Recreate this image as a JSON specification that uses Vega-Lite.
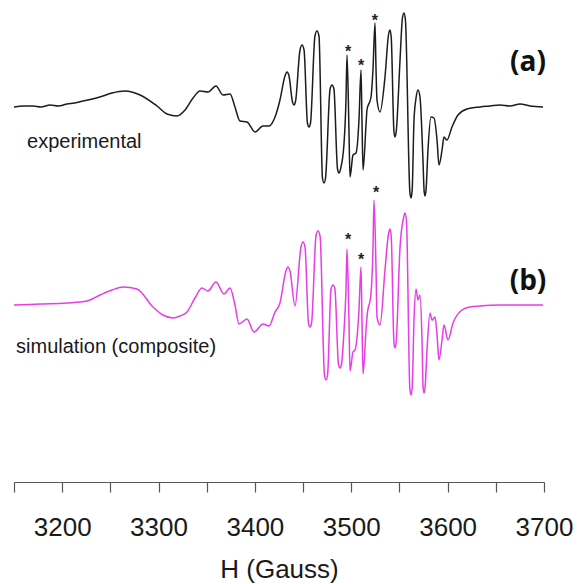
{
  "$schema": "https://vega.github.io/schema/vega-lite/v6.json",
  "autosize": {"type": "none"},
  "width": 530,
  "height": 482,
  "padding": {"left": 14, "right": 35, "top": 0, "bottom": 102},
  "background": "white",
  "config": {"view": {"stroke": null}},
  "datasets": {
    "spectra": [
      {"trace": "experimental", "H": 3150, "I": 375},
      {"trace": "experimental", "H": 3160, "I": 376},
      {"trace": "experimental", "H": 3169.7, "I": 376},
      {"trace": "experimental", "H": 3178, "I": 375},
      {"trace": "experimental", "H": 3187.4, "I": 377},
      {"trace": "experimental", "H": 3196, "I": 376},
      {"trace": "experimental", "H": 3205.0, "I": 378},
      {"trace": "experimental", "H": 3213, "I": 379},
      {"trace": "experimental", "H": 3221.6, "I": 381},
      {"trace": "experimental", "H": 3239.2, "I": 385},
      {"trace": "experimental", "H": 3251.7, "I": 389},
      {"trace": "experimental", "H": 3265.2, "I": 391},
      {"trace": "experimental", "H": 3280.8, "I": 387},
      {"trace": "experimental", "H": 3298.4, "I": 376},
      {"trace": "experimental", "H": 3308.8, "I": 368},
      {"trace": "experimental", "H": 3319.2, "I": 366},
      {"trace": "experimental", "H": 3327.5, "I": 372},
      {"trace": "experimental", "H": 3335.8, "I": 384},
      {"trace": "experimental", "H": 3343.0, "I": 391},
      {"trace": "experimental", "H": 3351.3, "I": 390},
      {"trace": "experimental", "H": 3359.6, "I": 396},
      {"trace": "experimental", "H": 3366.9, "I": 387},
      {"trace": "experimental", "H": 3374.2, "I": 388},
      {"trace": "experimental", "H": 3379.3, "I": 375},
      {"trace": "experimental", "H": 3384.5, "I": 361},
      {"trace": "experimental", "H": 3391.8, "I": 360},
      {"trace": "experimental", "H": 3400.1, "I": 350},
      {"trace": "experimental", "H": 3408.4, "I": 356},
      {"trace": "experimental", "H": 3414.6, "I": 356},
      {"trace": "experimental", "H": 3420.9, "I": 365},
      {"trace": "experimental", "H": 3426.0, "I": 382},
      {"trace": "experimental", "H": 3431.2, "I": 406},
      {"trace": "experimental", "H": 3433.3, "I": 410},
      {"trace": "experimental", "H": 3435.4, "I": 406},
      {"trace": "experimental", "H": 3439.0, "I": 380},
      {"trace": "experimental", "H": 3440.6, "I": 377},
      {"trace": "experimental", "H": 3442.2, "I": 381},
      {"trace": "experimental", "H": 3446.8, "I": 432},
      {"trace": "experimental", "H": 3448.9, "I": 437},
      {"trace": "experimental", "H": 3451.0, "I": 432},
      {"trace": "experimental", "H": 3454.5, "I": 359},
      {"trace": "experimental", "H": 3456.1, "I": 355},
      {"trace": "experimental", "H": 3457.7, "I": 359},
      {"trace": "experimental", "H": 3462.3, "I": 446},
      {"trace": "experimental", "H": 3464.4, "I": 451},
      {"trace": "experimental", "H": 3466.5, "I": 446},
      {"trace": "experimental", "H": 3470.1, "I": 304},
      {"trace": "experimental", "H": 3471.7, "I": 299},
      {"trace": "experimental", "H": 3473.3, "I": 304},
      {"trace": "experimental", "H": 3478.0, "I": 393},
      {"trace": "experimental", "H": 3480.0, "I": 397},
      {"trace": "experimental", "H": 3482.0, "I": 393},
      {"trace": "experimental", "H": 3485.7, "I": 313},
      {"trace": "experimental", "H": 3487.3, "I": 309},
      {"trace": "experimental", "H": 3488.9, "I": 313},
      {"trace": "experimental", "H": 3492.5, "I": 339},
      {"trace": "experimental", "H": 3494.5, "I": 382},
      {"trace": "experimental", "H": 3495.6, "I": 427},
      {"trace": "experimental", "H": 3497.6, "I": 352},
      {"trace": "experimental", "H": 3498.7, "I": 305},
      {"trace": "experimental", "H": 3501.8, "I": 327},
      {"trace": "experimental", "H": 3504.9, "I": 329},
      {"trace": "experimental", "H": 3508.0, "I": 362},
      {"trace": "experimental", "H": 3510.1, "I": 412},
      {"trace": "experimental", "H": 3511.1, "I": 362},
      {"trace": "experimental", "H": 3512.2, "I": 312},
      {"trace": "experimental", "H": 3515.3, "I": 357},
      {"trace": "experimental", "H": 3516.3, "I": 372},
      {"trace": "experimental", "H": 3520.5, "I": 385},
      {"trace": "experimental", "H": 3522.5, "I": 412},
      {"trace": "experimental", "H": 3524.6, "I": 459},
      {"trace": "experimental", "H": 3525.7, "I": 412},
      {"trace": "experimental", "H": 3526.7, "I": 382},
      {"trace": "experimental", "H": 3529.8, "I": 370},
      {"trace": "experimental", "H": 3535.0, "I": 405},
      {"trace": "experimental", "H": 3538.6, "I": 447},
      {"trace": "experimental", "H": 3540.2, "I": 452},
      {"trace": "experimental", "H": 3541.5, "I": 444},
      {"trace": "experimental", "H": 3544.3, "I": 350},
      {"trace": "experimental", "H": 3545.4, "I": 345},
      {"trace": "experimental", "H": 3546.6, "I": 350},
      {"trace": "experimental", "H": 3550.6, "I": 422},
      {"trace": "experimental", "H": 3553.1, "I": 464},
      {"trace": "experimental", "H": 3554.7, "I": 469},
      {"trace": "experimental", "H": 3556.2, "I": 462},
      {"trace": "experimental", "H": 3560.8, "I": 290},
      {"trace": "experimental", "H": 3562.0, "I": 284},
      {"trace": "experimental", "H": 3563.2, "I": 292},
      {"trace": "experimental", "H": 3565.1, "I": 362},
      {"trace": "experimental", "H": 3567.2, "I": 384},
      {"trace": "experimental", "H": 3569.2, "I": 392},
      {"trace": "experimental", "H": 3571.3, "I": 385},
      {"trace": "experimental", "H": 3574.4, "I": 322},
      {"trace": "experimental", "H": 3575.6, "I": 291},
      {"trace": "experimental", "H": 3576.5, "I": 286},
      {"trace": "experimental", "H": 3577.6, "I": 292},
      {"trace": "experimental", "H": 3579.6, "I": 332},
      {"trace": "experimental", "H": 3582.7, "I": 365},
      {"trace": "experimental", "H": 3585.8, "I": 364},
      {"trace": "experimental", "H": 3589.0, "I": 342},
      {"trace": "experimental", "H": 3591.0, "I": 317},
      {"trace": "experimental", "H": 3594.2, "I": 332},
      {"trace": "experimental", "H": 3596.2, "I": 345},
      {"trace": "experimental", "H": 3599.3, "I": 342},
      {"trace": "experimental", "H": 3604.5, "I": 355},
      {"trace": "experimental", "H": 3610.8, "I": 367},
      {"trace": "experimental", "H": 3620.1, "I": 373},
      {"trace": "experimental", "H": 3633.6, "I": 375},
      {"trace": "experimental", "H": 3644.0, "I": 376},
      {"trace": "experimental", "H": 3654.3, "I": 377},
      {"trace": "experimental", "H": 3664.7, "I": 376},
      {"trace": "experimental", "H": 3675.1, "I": 378},
      {"trace": "experimental", "H": 3685.5, "I": 376},
      {"trace": "experimental", "H": 3699.0, "I": 375},
      {"trace": "simulation", "H": 3150, "I": 177},
      {"trace": "simulation", "H": 3177.0, "I": 178},
      {"trace": "simulation", "H": 3205.0, "I": 179},
      {"trace": "simulation", "H": 3225.8, "I": 181},
      {"trace": "simulation", "H": 3239.2, "I": 187},
      {"trace": "simulation", "H": 3251.7, "I": 192},
      {"trace": "simulation", "H": 3263.1, "I": 195},
      {"trace": "simulation", "H": 3277.6, "I": 193},
      {"trace": "simulation", "H": 3294.2, "I": 175},
      {"trace": "simulation", "H": 3304.6, "I": 167},
      {"trace": "simulation", "H": 3315.0, "I": 164},
      {"trace": "simulation", "H": 3322.3, "I": 166},
      {"trace": "simulation", "H": 3329.5, "I": 170},
      {"trace": "simulation", "H": 3337.8, "I": 184},
      {"trace": "simulation", "H": 3345.1, "I": 194},
      {"trace": "simulation", "H": 3351.3, "I": 191},
      {"trace": "simulation", "H": 3359.6, "I": 200},
      {"trace": "simulation", "H": 3367.9, "I": 188},
      {"trace": "simulation", "H": 3374.2, "I": 194},
      {"trace": "simulation", "H": 3379.3, "I": 177},
      {"trace": "simulation", "H": 3383.5, "I": 158},
      {"trace": "simulation", "H": 3391.8, "I": 163},
      {"trace": "simulation", "H": 3399.1, "I": 150},
      {"trace": "simulation", "H": 3408.4, "I": 158},
      {"trace": "simulation", "H": 3414.6, "I": 156},
      {"trace": "simulation", "H": 3420.9, "I": 170},
      {"trace": "simulation", "H": 3426.0, "I": 179},
      {"trace": "simulation", "H": 3432.2, "I": 211},
      {"trace": "simulation", "H": 3434.3, "I": 215},
      {"trace": "simulation", "H": 3436.4, "I": 211},
      {"trace": "simulation", "H": 3441.6, "I": 176},
      {"trace": "simulation", "H": 3447.8, "I": 235},
      {"trace": "simulation", "H": 3449.9, "I": 240},
      {"trace": "simulation", "H": 3452.0, "I": 235},
      {"trace": "simulation", "H": 3455.6, "I": 159},
      {"trace": "simulation", "H": 3457.2, "I": 155},
      {"trace": "simulation", "H": 3458.8, "I": 159},
      {"trace": "simulation", "H": 3463.4, "I": 246},
      {"trace": "simulation", "H": 3465.5, "I": 251},
      {"trace": "simulation", "H": 3467.6, "I": 246},
      {"trace": "simulation", "H": 3472.2, "I": 107},
      {"trace": "simulation", "H": 3473.8, "I": 102},
      {"trace": "simulation", "H": 3475.4, "I": 107},
      {"trace": "simulation", "H": 3479.0, "I": 193},
      {"trace": "simulation", "H": 3481.0, "I": 197},
      {"trace": "simulation", "H": 3483.0, "I": 193},
      {"trace": "simulation", "H": 3486.7, "I": 118},
      {"trace": "simulation", "H": 3488.3, "I": 114},
      {"trace": "simulation", "H": 3489.9, "I": 118},
      {"trace": "simulation", "H": 3492.5, "I": 152},
      {"trace": "simulation", "H": 3494.5, "I": 192},
      {"trace": "simulation", "H": 3495.6, "I": 233},
      {"trace": "simulation", "H": 3497.6, "I": 162},
      {"trace": "simulation", "H": 3498.7, "I": 111},
      {"trace": "simulation", "H": 3501.8, "I": 130},
      {"trace": "simulation", "H": 3503.9, "I": 132},
      {"trace": "simulation", "H": 3508.0, "I": 172},
      {"trace": "simulation", "H": 3510.1, "I": 215},
      {"trace": "simulation", "H": 3511.1, "I": 162},
      {"trace": "simulation", "H": 3512.2, "I": 108},
      {"trace": "simulation", "H": 3515.3, "I": 152},
      {"trace": "simulation", "H": 3516.3, "I": 165},
      {"trace": "simulation", "H": 3520.5, "I": 189},
      {"trace": "simulation", "H": 3522.5, "I": 232},
      {"trace": "simulation", "H": 3523.6, "I": 282},
      {"trace": "simulation", "H": 3525.7, "I": 212},
      {"trace": "simulation", "H": 3526.7, "I": 165},
      {"trace": "simulation", "H": 3529.8, "I": 157},
      {"trace": "simulation", "H": 3535.0, "I": 212},
      {"trace": "simulation", "H": 3538.6, "I": 248},
      {"trace": "simulation", "H": 3540.2, "I": 253},
      {"trace": "simulation", "H": 3541.5, "I": 245},
      {"trace": "simulation", "H": 3544.3, "I": 139},
      {"trace": "simulation", "H": 3545.4, "I": 134},
      {"trace": "simulation", "H": 3546.6, "I": 140},
      {"trace": "simulation", "H": 3550.6, "I": 235},
      {"trace": "simulation", "H": 3554.2, "I": 264},
      {"trace": "simulation", "H": 3555.8, "I": 269},
      {"trace": "simulation", "H": 3557.3, "I": 261},
      {"trace": "simulation", "H": 3560.8, "I": 93},
      {"trace": "simulation", "H": 3562.0, "I": 87},
      {"trace": "simulation", "H": 3563.2, "I": 94},
      {"trace": "simulation", "H": 3565.1, "I": 162},
      {"trace": "simulation", "H": 3567.2, "I": 193},
      {"trace": "simulation", "H": 3569.2, "I": 182},
      {"trace": "simulation", "H": 3571.3, "I": 187},
      {"trace": "simulation", "H": 3573.4, "I": 142},
      {"trace": "simulation", "H": 3574.5, "I": 95},
      {"trace": "simulation", "H": 3575.5, "I": 89},
      {"trace": "simulation", "H": 3576.7, "I": 96},
      {"trace": "simulation", "H": 3578.6, "I": 132},
      {"trace": "simulation", "H": 3581.7, "I": 169},
      {"trace": "simulation", "H": 3583.8, "I": 162},
      {"trace": "simulation", "H": 3586.9, "I": 165},
      {"trace": "simulation", "H": 3589.0, "I": 147},
      {"trace": "simulation", "H": 3591.0, "I": 122},
      {"trace": "simulation", "H": 3594.2, "I": 142},
      {"trace": "simulation", "H": 3596.2, "I": 157},
      {"trace": "simulation", "H": 3600.4, "I": 142},
      {"trace": "simulation", "H": 3605.6, "I": 159},
      {"trace": "simulation", "H": 3614.9, "I": 172},
      {"trace": "simulation", "H": 3623.2, "I": 175},
      {"trace": "simulation", "H": 3633.6, "I": 176},
      {"trace": "simulation", "H": 3654.3, "I": 177},
      {"trace": "simulation", "H": 3675.1, "I": 177},
      {"trace": "simulation", "H": 3699.0, "I": 177}
    ],
    "stars": [
      {"H": 3496.6, "I": 434},
      {"H": 3510.1, "I": 420},
      {"H": 3524.6, "I": 465},
      {"H": 3496.6, "I": 246},
      {"H": 3510.1, "I": 226},
      {"H": 3525.7, "I": 293}
    ],
    "notes": [
      {"H": 3163.5, "I": 334, "text": "experimental"},
      {"H": 3152.1, "I": 129, "text": "simulation (composite)"}
    ],
    "tags": [
      {"H": 3683.4, "I": 419, "text": "(a)"},
      {"H": 3683.4, "I": 200, "text": "(b)"}
    ]
  },
  "layer": [
    {
      "data": {"name": "spectra"},
      "mark": {"type": "line", "interpolate": "monotone", "strokeWidth": 1.5, "strokeJoin": "round"},
      "encoding": {
        "x": {
          "field": "H", "type": "quantitative",
          "scale": {"domain": [3150, 3700], "nice": false, "zero": false},
          "axis": {
            "title": "H (Gauss)",
            "values": [3150, 3200, 3250, 3300, 3350, 3400, 3450, 3500, 3550, 3600, 3650, 3700],
            "format": "d",
            "labelExpr": "datum.value % 100 === 0 ? datum.label : ''",
            "grid": false,
            "domainColor": "#555555",
            "domainWidth": 1.2,
            "tickColor": "#555555",
            "tickWidth": 1.2,
            "tickSize": 10,
            "labelFont": "Liberation Sans",
            "labelFontSize": 26,
            "labelColor": "#1a1a1a",
            "labelPadding": 22,
            "labelFlush": false,
            "labelOverlap": false,
            "titleFont": "Liberation Sans",
            "titleFontSize": 26,
            "titleFontWeight": "normal",
            "titleColor": "#1a1a1a",
            "titleBaseline": "alphabetic",
            "titleY": 95,
            "encode": {
              "ticks": {"update": {"y2": {"signal": "datum.value % 100 === 0 ? 10 : 6"}}}
            }
          }
        },
        "y": {
          "field": "I", "type": "quantitative",
          "scale": {"domain": [0, 482], "nice": false, "zero": false},
          "axis": null
        },
        "color": {
          "field": "trace", "type": "nominal",
          "scale": {"domain": ["experimental", "simulation"], "range": ["#1c1c1c", "#e63de6"]},
          "legend": null
        }
      }
    },
    {
      "data": {"name": "stars"},
      "mark": {"type": "text", "text": "*", "font": "Liberation Sans", "fontSize": 16, "fontWeight": "bold", "baseline": "alphabetic", "align": "center", "dy": 9, "color": "#222222"},
      "encoding": {
        "x": {"field": "H", "type": "quantitative"},
        "y": {"field": "I", "type": "quantitative"}
      }
    },
    {
      "data": {"name": "notes"},
      "mark": {"type": "text", "font": "Liberation Sans", "fontSize": 20, "baseline": "alphabetic", "align": "left", "color": "#1a1a1a"},
      "encoding": {
        "x": {"field": "H", "type": "quantitative"},
        "y": {"field": "I", "type": "quantitative"},
        "text": {"field": "text"}
      }
    },
    {
      "data": {"name": "tags"},
      "mark": {"type": "text", "font": "Open Sans", "fontSize": 28, "fontWeight": "bold", "baseline": "middle", "align": "center", "color": "#111111"},
      "encoding": {
        "x": {"field": "H", "type": "quantitative"},
        "y": {"field": "I", "type": "quantitative"},
        "text": {"field": "text"}
      }
    }
  ]
}
